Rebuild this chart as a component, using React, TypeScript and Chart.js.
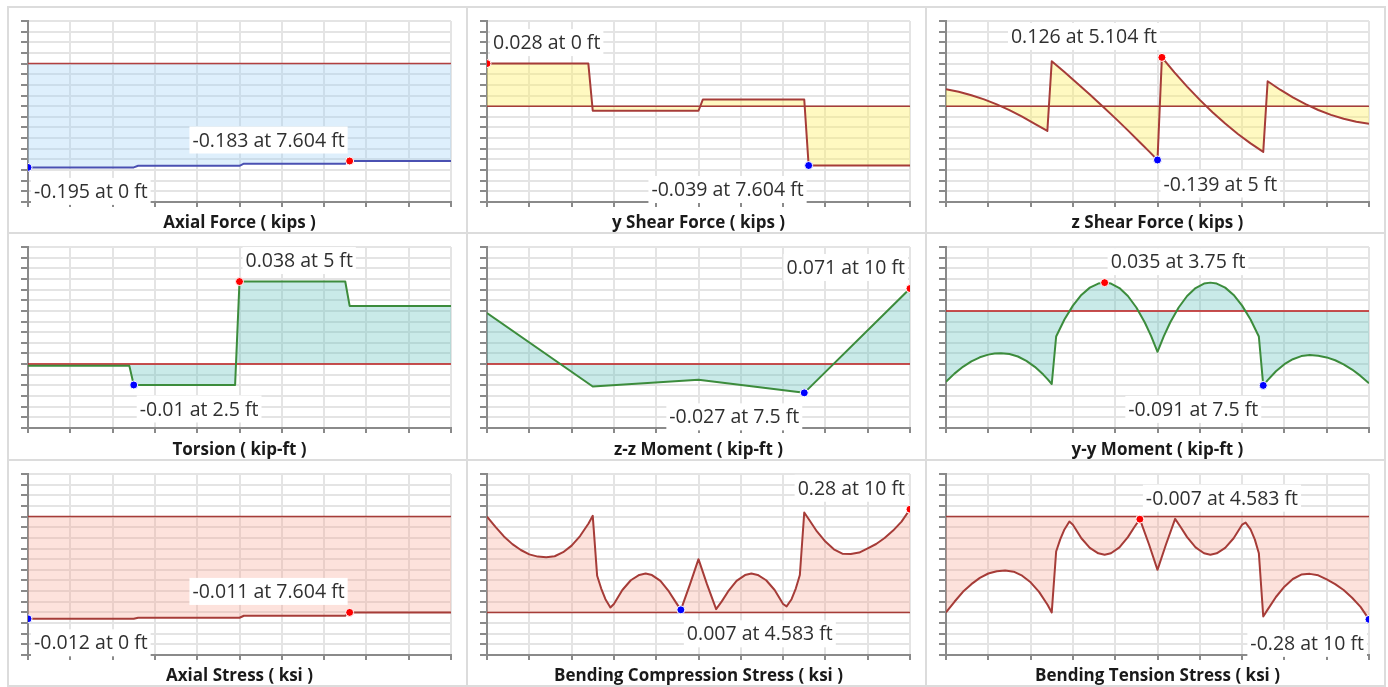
import React, { useEffect, useRef } from 'react';
import { Chart, registerables } from 'chart.js';

Chart.register(...registerables);

// ---------------- data ----------------
const axialForceX = [0, 2.5, 2.604, 5.0, 5.104, 7.5, 7.604, 10];
const axialForceY = [-0.195, -0.195, -0.192, -0.192, -0.188, -0.188, -0.183, -0.183];
const axialForceRange = [-0.26, 0.08];
const axialForceMax = [7.604, -0.183];
const axialForceMin = [0, -0.195];
const axialForceLabels = ['-0.183 at 7.604 ft', '-0.195 at 0 ft'];

const yShearX = [0, 2.396, 2.5, 5.0, 5.104, 7.5, 7.604, 10];
const yShearY = [0.028, 0.028, -0.003, -0.003, 0.0044, 0.0044, -0.039, -0.039];
const yShearRange = [-0.063, 0.056];
const yShearMax = [0, 0.028];
const yShearMin = [7.604, -0.039];
const yShearLabels = ['0.028 at 0 ft', '-0.039 at 7.604 ft'];

const zShearX = [0, 0.3, 0.6, 0.9, 1.2, 1.5, 1.8, 2.1, 2.396, 2.5, 2.8, 3.1, 3.4, 3.7, 4.0, 4.3, 4.6, 4.8, 5.0, 5.104, 5.4, 5.7, 6.0, 6.3, 6.6, 6.9, 7.2, 7.5, 7.604, 7.9, 8.2, 8.5, 8.8, 9.1, 9.4, 9.7, 10];
const zShearY = [0.044, 0.0371, 0.0283, 0.0175, 0.0047, -0.0101, -0.0268, -0.0455, -0.064, 0.116, 0.0881, 0.0594, 0.0301, 0.0, -0.0309, -0.0625, -0.0949, -0.1168, -0.139, 0.126, 0.0873, 0.0505, 0.0162, -0.0156, -0.0449, -0.0718, -0.0961, -0.118, 0.0645, 0.0425, 0.0227, 0.0052, -0.0098, -0.0224, -0.0326, -0.0403, -0.0455];
const zShearRange = [-0.2475, 0.22];
const zShearMax = [5.104, 0.126];
const zShearMin = [5.0, -0.139];
const zShearLabels = ['0.126 at 5.104 ft', '-0.139 at 5 ft'];

const torsionX = [0, 2.396, 2.5, 4.896, 5.0, 7.5, 7.604, 10];
const torsionY = [-0.0008, -0.0008, -0.0096, -0.0096, 0.038, 0.038, 0.0268, 0.0268];
const torsionRange = [-0.0294, 0.0539];
const torsionMax = [5.0, 0.038];
const torsionMin = [2.5, -0.0096];
const torsionLabels = ['0.038 at 5 ft', '-0.01 at 2.5 ft'];

const zzMomentX = [0, 2.5, 5.0, 7.5, 10];
const zzMomentY = [0.048, -0.021, -0.0147, -0.027, 0.071];
const zzMomentRange = [-0.06, 0.11];
const zzMomentMax = [10, 0.071];
const zzMomentMin = [7.5, -0.027];
const zzMomentLabels = ['0.071 at 10 ft', '-0.027 at 7.5 ft'];

const yyMomentX = [0, 0.2, 0.4, 0.6, 0.8, 1.0, 1.15, 1.3, 1.5, 1.7, 1.9, 2.1, 2.3, 2.4, 2.5, 2.604, 2.8, 3.0, 3.2, 3.4, 3.6, 3.75, 3.9, 4.1, 4.3, 4.5, 4.7, 4.85, 5.0, 5.15, 5.3, 5.5, 5.7, 5.9, 6.1, 6.25, 6.4, 6.6, 6.8, 7.0, 7.2, 7.396, 7.5, 7.6, 7.8, 8.0, 8.2, 8.4, 8.6, 8.8, 9.0, 9.2, 9.4, 9.6, 9.8, 10];
const yyMomentY = [-0.0865, -0.0766, -0.0683, -0.0617, -0.0567, -0.0534, -0.052, -0.0516, -0.0526, -0.0557, -0.061, -0.0683, -0.0778, -0.0833, -0.0893, -0.0313, -0.0106, 0.0064, 0.0194, 0.0284, 0.0334, 0.0345, 0.0333, 0.0279, 0.0182, 0.0041, -0.0142, -0.0309, -0.05, -0.0309, -0.0142, 0.0041, 0.0182, 0.0279, 0.0333, 0.0345, 0.0334, 0.0284, 0.0194, 0.0064, -0.0106, -0.0313, -0.091, -0.0849, -0.0737, -0.0651, -0.059, -0.0552, -0.054, -0.0547, -0.0568, -0.0603, -0.0653, -0.0716, -0.0794, -0.0885];
const yyMomentRange = [-0.143, 0.078];
const yyMomentMax = [3.75, 0.0345];
const yyMomentMin = [7.5, -0.091];
const yyMomentLabels = ['0.035 at 3.75 ft', '-0.091 at 7.5 ft'];

const axialStressX = [0, 2.5, 2.604, 5.0, 5.104, 7.5, 7.604, 10];
const axialStressY = [-0.012, -0.012, -0.01188, -0.01188, -0.01164, -0.01164, -0.01125, -0.01125];
const axialStressRange = [-0.01625, 0.005];
const axialStressMax = [7.604, -0.01125];
const axialStressMin = [0, -0.012];
const axialStressLabels = ['-0.011 at 7.604 ft', '-0.012 at 0 ft'];

const compressionX = [0, 0.2, 0.4, 0.6, 0.8, 1.0, 1.2, 1.4, 1.6, 1.8, 2.0, 2.2, 2.4, 2.5, 2.604, 2.7, 2.8, 2.917, 3.0, 3.2, 3.4, 3.6, 3.75, 3.9, 4.1, 4.3, 4.45, 4.583, 4.8, 5.0, 5.2, 5.417, 5.55, 5.7, 5.9, 6.1, 6.25, 6.4, 6.6, 6.8, 7.0, 7.083, 7.2, 7.3, 7.396, 7.5, 7.6, 7.8, 8.0, 8.2, 8.4, 8.6, 8.8, 9.0, 9.2, 9.4, 9.6, 9.8, 10];
const compressionY = [0.261, 0.233, 0.207, 0.186, 0.17, 0.158, 0.152, 0.15, 0.153, 0.164, 0.182, 0.208, 0.242, 0.263, 0.0997, 0.065, 0.036, 0.0136, 0.023, 0.061, 0.0876, 0.102, 0.106, 0.1017, 0.0858, 0.057, 0.03, 0.007, 0.077, 0.145, 0.077, 0.009, 0.03, 0.057, 0.0858, 0.1017, 0.106, 0.102, 0.0876, 0.061, 0.023, 0.0163, 0.036, 0.065, 0.102, 0.272, 0.255, 0.2205, 0.193, 0.172, 0.16, 0.159, 0.163, 0.1745, 0.1863, 0.2026, 0.2228, 0.2473, 0.281];
const compressionRange = [-0.116, 0.377];
const compressionMax = [10, 0.281];
const compressionMin = [4.583, 0.007];
const compressionLabels = ['0.28 at 10 ft', '0.007 at 4.583 ft'];

const tensionX = [0, 0.2, 0.4, 0.6, 0.8, 1.0, 1.2, 1.4, 1.6, 1.8, 2.0, 2.2, 2.4, 2.5, 2.604, 2.7, 2.8, 2.917, 3.0, 3.2, 3.4, 3.6, 3.75, 3.9, 4.1, 4.3, 4.45, 4.583, 4.8, 5.0, 5.2, 5.417, 5.55, 5.7, 5.9, 6.1, 6.25, 6.4, 6.6, 6.8, 7.0, 7.083, 7.2, 7.3, 7.396, 7.5, 7.6, 7.8, 8.0, 8.2, 8.4, 8.6, 8.8, 9.0, 9.2, 9.4, 9.6, 9.8, 10];
const tensionY = [-0.261, -0.232, -0.205, -0.184, -0.167, -0.155, -0.149, -0.147, -0.15, -0.161, -0.179, -0.205, -0.24, -0.261, -0.095, -0.062, -0.035, -0.0136, -0.022, -0.059, -0.085, -0.1, -0.104, -0.1, -0.084, -0.056, -0.029, -0.007, -0.076, -0.145, -0.076, -0.0063, -0.029, -0.056, -0.084, -0.1, -0.104, -0.1, -0.085, -0.059, -0.022, -0.0163, -0.035, -0.062, -0.0997, -0.272, -0.254, -0.219, -0.191, -0.17, -0.158, -0.156, -0.16, -0.171, -0.184, -0.2, -0.221, -0.246, -0.28];
const tensionRange = [-0.377, 0.116];
const tensionMax = [4.583, -0.007];
const tensionMin = [10, -0.28];
const tensionLabels = ['-0.007 at 4.583 ft', '-0.28 at 10 ft'];

const xTicks = [0, 10];

// ---------------- styles ----------------
const themes: Record<string, { line: string; fill: string; zero: string }> = {
  blue: { line: '#4a50b2', fill: 'rgba(160,210,245,0.35)', zero: '#b24040' },
  yellow: { line: '#a63c38', fill: 'rgba(255,240,100,0.4)', zero: '#a63c38' },
  teal: { line: '#3c8c3c', fill: 'rgba(100,195,190,0.35)', zero: '#c01c1c' },
  salmon: { line: '#a63c38', fill: 'rgba(250,160,140,0.3)', zero: '#a63c38' },
};

type Side = 'left' | 'right';
type Pos = 'above' | 'below';

const panels = [
  { title: 'Axial Force ( kips )', xs: axialForceX, ys: axialForceY, range: axialForceRange, max: axialForceMax, min: axialForceMin, labels: axialForceLabels, theme: 'blue', maxPlace: ['left', 'above'], minPlace: ['right', 'below'] },
  { title: 'y Shear Force ( kips )', xs: yShearX, ys: yShearY, range: yShearRange, max: yShearMax, min: yShearMin, labels: yShearLabels, theme: 'yellow', maxPlace: ['right', 'above'], minPlace: ['left', 'below'] },
  { title: 'z Shear Force ( kips )', xs: zShearX, ys: zShearY, range: zShearRange, max: zShearMax, min: zShearMin, labels: zShearLabels, theme: 'yellow', maxPlace: ['left', 'above'], minPlace: ['right', 'below'] },
  { title: 'Torsion ( kip-ft )', xs: torsionX, ys: torsionY, range: torsionRange, max: torsionMax, min: torsionMin, labels: torsionLabels, theme: 'teal', maxPlace: ['right', 'above'], minPlace: ['right', 'below'] },
  { title: 'z-z Moment ( kip-ft )', xs: zzMomentX, ys: zzMomentY, range: zzMomentRange, max: zzMomentMax, min: zzMomentMin, labels: zzMomentLabels, theme: 'teal', maxPlace: ['left', 'above'], minPlace: ['left', 'below'] },
  { title: 'y-y Moment ( kip-ft )', xs: yyMomentX, ys: yyMomentY, range: yyMomentRange, max: yyMomentMax, min: yyMomentMin, labels: yyMomentLabels, theme: 'teal', maxPlace: ['right', 'above'], minPlace: ['left', 'below'] },
  { title: 'Axial Stress ( ksi )', xs: axialStressX, ys: axialStressY, range: axialStressRange, max: axialStressMax, min: axialStressMin, labels: axialStressLabels, theme: 'salmon', maxPlace: ['left', 'above'], minPlace: ['right', 'below'] },
  { title: 'Bending Compression Stress ( ksi )', xs: compressionX, ys: compressionY, range: compressionRange, max: compressionMax, min: compressionMin, labels: compressionLabels, theme: 'salmon', maxPlace: ['left', 'above'], minPlace: ['right', 'below'] },
  { title: 'Bending Tension Stress ( ksi )', xs: tensionX, ys: tensionY, range: tensionRange, max: tensionMax, min: tensionMin, labels: tensionLabels, theme: 'salmon', maxPlace: ['right', 'above'], minPlace: ['left', 'below'] },
];

const rowHeights = [224, 225, 224];
const PANEL_W = 457;
const FONT = '"Open Sans", "Noto Sans", sans-serif';

function makeLabelPlugin(items: { x: number; y: number; text: string; side: Side; pos: Pos }[]) {
  return {
    id: 'extremaLabels',
    afterDatasetsDraw(chart: any) {
      const { ctx, scales } = chart;
      const xs = scales.x;
      const ys = scales.y;
      ctx.save();
      ctx.font = `19.5px ${FONT}`;
      items.forEach((it) => {
        const px = xs.getPixelForValue(it.x);
        const py = ys.getPixelForValue(it.y);
        const w = ctx.measureText(it.text).width;
        const left = it.side === 'left' ? px - 5 - w : px + 6;
        const cy = it.pos === 'above' ? py - 21 : py + 24;
        ctx.fillStyle = '#ffffff';
        ctx.fillRect(left - 3, cy - 13.5, w + 6, 27);
        ctx.fillStyle = '#303030';
        ctx.textBaseline = 'middle';
        ctx.textAlign = 'left';
        ctx.fillText(it.text, left, cy + 1);
      });
      ctx.restore();
    },
  };
}

function Panel({ cfg, height }: { cfg: any; height: number }) {
  const ref = useRef<HTMLCanvasElement>(null);
  useEffect(() => {
    const canvas = ref.current;
    if (!canvas) return;
    const th = themes[cfg.theme];
    const lineData = cfg.xs.map((x: number, i: number) => ({ x, y: cfg.ys[i] }));
    const plugin = makeLabelPlugin([
      { x: cfg.max[0], y: cfg.max[1], text: cfg.labels[0], side: cfg.maxPlace[0], pos: cfg.maxPlace[1] },
      { x: cfg.min[0], y: cfg.min[1], text: cfg.labels[1], side: cfg.minPlace[0], pos: cfg.minPlace[1] },
    ]);
    const chart = new Chart(canvas, {
      type: 'line',
      data: {
        datasets: [
          {
            label: 'max',
            data: [{ x: cfg.max[0], y: cfg.max[1] }],
            showLine: false,
            pointRadius: 4,
            pointBackgroundColor: '#ff0000',
            pointBorderColor: '#ffffff',
            pointBorderWidth: 1,
            fill: false,
          },
          {
            label: 'min',
            data: [{ x: cfg.min[0], y: cfg.min[1] }],
            showLine: false,
            pointRadius: 4,
            pointBackgroundColor: '#0000ff',
            pointBorderColor: '#ffffff',
            pointBorderWidth: 1,
            fill: false,
          },
          {
            label: 'value',
            data: lineData,
            borderColor: th.line,
            borderWidth: 2,
            pointRadius: 0,
            fill: 'origin',
            backgroundColor: th.fill,
            tension: 0,
            borderJoinStyle: 'round',
          },
          {
            label: 'zero',
            data: [{ x: xTicks[0], y: 0 }, { x: xTicks[1], y: 0 }],
            borderColor: th.zero,
            borderWidth: 1.5,
            pointRadius: 0,
            fill: false,
          },
        ],
      } as any,
      options: {
        responsive: false,
        animation: false,
        devicePixelRatio: 1,
        layout: { padding: { left: 12, top: 13, right: 15, bottom: 0 } },
        plugins: {
          legend: { display: false },
          tooltip: { enabled: false },
          filler: { drawTime: 'beforeDatasetsDraw' },
        } as any,
        scales: {
          x: {
            type: 'linear',
            min: xTicks[0],
            max: xTicks[1],
            ticks: { display: false, stepSize: 1 },
            grid: { color: '#e4e4e4', lineWidth: 2, tickColor: '#8a8a8a', tickWidth: 2, tickLength: 5 },
            border: { display: true, color: '#8a8a8a', width: 2 },
            title: {
              display: true,
              text: cfg.title,
              color: '#1a1a1a',
              font: { family: FONT, size: 17, weight: 'bold', lineHeight: 1.0 },
              padding: { top: 0, bottom: 0 },
            },
            afterFit: (s: any) => {
              s.height = height - 13 - 181;
            },
          },
          y: {
            type: 'linear',
            min: cfg.range[0],
            max: cfg.range[1],
            ticks: { display: false, count: 18 },
            grid: { color: '#e4e4e4', lineWidth: 2, tickColor: '#8a8a8a', tickWidth: 2, tickLength: 7 },
            border: { display: true, color: '#8a8a8a', width: 2 },
            afterFit: (s: any) => {
              s.width = 7;
            },
          },
        },
      } as any,
      plugins: [plugin],
    });
    return () => chart.destroy();
  }, [cfg, height]);
  return <canvas ref={ref} width={PANEL_W} height={height} style={{ display: 'block', width: PANEL_W, height }} />;
}

export default function App() {
  return (
    <div
      style={{
        position: 'absolute',
        left: 7,
        top: 6,
        display: 'grid',
        gridTemplateColumns: `${PANEL_W}px ${PANEL_W}px ${PANEL_W}px`,
        gridTemplateRows: rowHeights.map((h) => `${h}px`).join(' '),
        gap: 2,
        padding: 2,
        background: '#dcdcdc',
      }}
    >
      {panels.map((p, i) => (
        <div key={i} style={{ background: '#ffffff', width: PANEL_W, height: rowHeights[Math.floor(i / 3)] }}>
          <Panel cfg={p} height={rowHeights[Math.floor(i / 3)]} />
        </div>
      ))}
    </div>
  );
}
